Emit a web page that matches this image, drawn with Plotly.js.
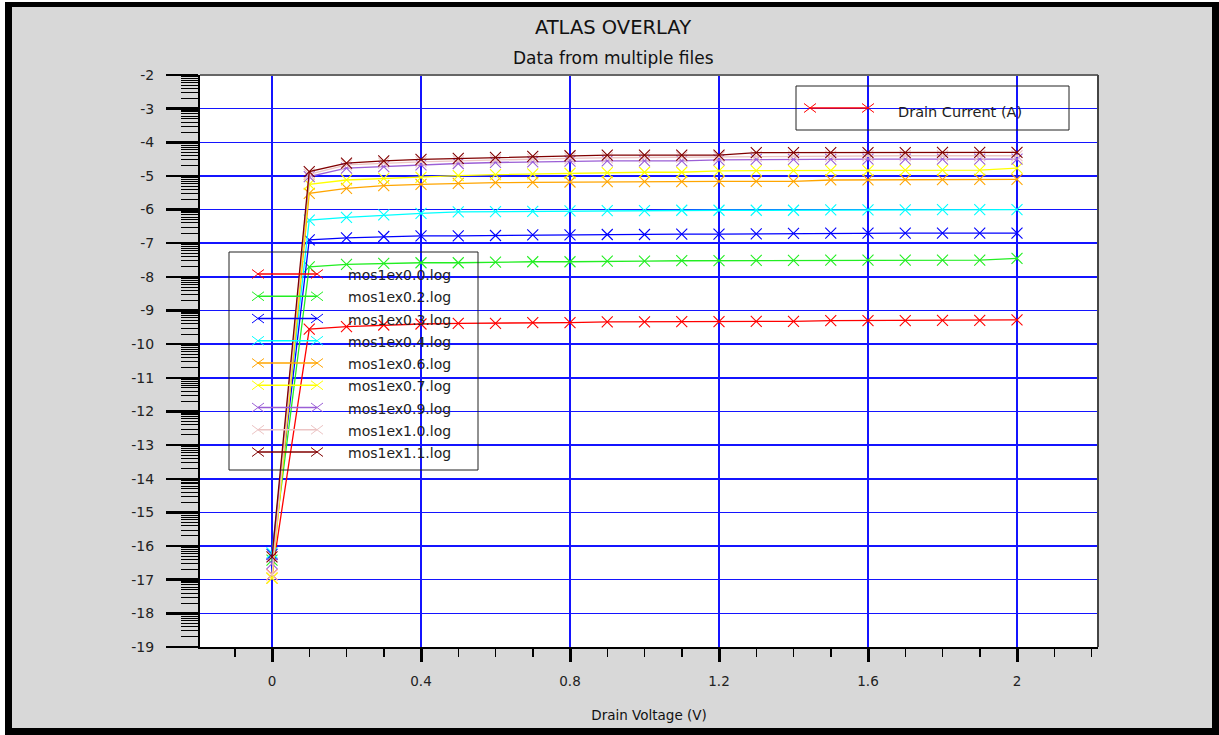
<!DOCTYPE html>
<html>
<head>
<meta charset="utf-8">
<script src="https://cdn.plot.ly/plotly-3.0.1.min.js"></script>
<style>
html,body{margin:0;padding:0;background:#fff;width:1219px;height:735px;overflow:hidden;}
#frame{position:absolute;left:5px;top:2px;width:1214px;height:733px;background:#000;}
#chart{position:absolute;left:12px;top:7px;width:1200px;height:721px;}
</style>
</head>
<body>
<div id="frame"></div>
<div id="chart"></div>
<script>
// ---------------- data (log10 of drain current) ----------------
const drainVoltage = [0.0,0.1,0.2,0.3,0.4,0.5,0.6,0.7,0.8,0.9,1.0,1.1,1.2,1.3,1.4,1.5,1.6,1.7,1.8,1.9,2.0];

const fileNames = ['mos1ex0.0.log','mos1ex0.2.log','mos1ex0.3.log','mos1ex0.4.log','mos1ex0.6.log',
                   'mos1ex0.7.log','mos1ex0.9.log','mos1ex1.0.log','mos1ex1.1.log'];

const logId_00 = [-16.85,-9.55,-9.48,-9.43,-9.40,-9.38,-9.38,-9.36,-9.36,-9.34,-9.34,-9.33,-9.33,-9.32,-9.32,-9.30,-9.30,-9.30,-9.29,-9.29,-9.28];
const logId_02 = [-16.42,-7.70,-7.63,-7.60,-7.58,-7.58,-7.56,-7.55,-7.55,-7.53,-7.53,-7.52,-7.52,-7.51,-7.51,-7.50,-7.50,-7.50,-7.50,-7.50,-7.45];
const logId_03 = [-16.25,-6.90,-6.84,-6.80,-6.78,-6.78,-6.77,-6.75,-6.75,-6.74,-6.74,-6.73,-6.73,-6.72,-6.71,-6.70,-6.70,-6.70,-6.70,-6.70,-6.70];
const logId_04 = [-16.20,-6.31,-6.23,-6.16,-6.11,-6.07,-6.06,-6.05,-6.04,-6.03,-6.03,-6.02,-6.02,-6.02,-6.02,-6.01,-6.01,-6.01,-6.00,-6.00,-6.00];
const logId_06 = [-16.95,-5.52,-5.37,-5.29,-5.25,-5.22,-5.20,-5.19,-5.18,-5.17,-5.17,-5.17,-5.16,-5.16,-5.16,-5.12,-5.12,-5.11,-5.11,-5.10,-5.10];
const logId_07 = [-16.95,-5.25,-5.12,-5.07,-5.04,-4.99,-4.96,-4.94,-4.92,-4.90,-4.89,-4.89,-4.85,-4.84,-4.84,-4.84,-4.84,-4.83,-4.83,-4.83,-4.77];
const logId_09 = [-16.52,-5.02,-4.77,-4.72,-4.67,-4.63,-4.60,-4.58,-4.56,-4.55,-4.55,-4.55,-4.52,-4.51,-4.51,-4.51,-4.50,-4.50,-4.50,-4.50,-4.50];
const logId_10 = [-16.85,-4.95,-4.67,-4.62,-4.58,-4.55,-4.52,-4.50,-4.48,-4.46,-4.45,-4.44,-4.43,-4.42,-4.41,-4.41,-4.40,-4.40,-4.40,-4.40,-4.40];
const logId_11 = [-16.32,-4.87,-4.62,-4.55,-4.51,-4.48,-4.45,-4.42,-4.40,-4.38,-4.38,-4.38,-4.38,-4.31,-4.31,-4.31,-4.31,-4.31,-4.30,-4.30,-4.30];

const xTickVals = [0, 0.4, 0.8, 1.2, 1.6, 2];
const xTickText = ['0','0.4','0.8','1.2','1.6','2'];
const yTickVals = [-19,-18,-17,-16,-15,-14,-13,-12,-11,-10,-9,-8,-7,-6,-5,-4,-3,-2];
const yTickText = ['-19','-18','-17','-16','-15','-14','-13','-12','-11','-10','-9','-8','-7','-6','-5','-4','-3','-2'];

const quantityName = 'Drain Current (A)';

// ---------------- styling ----------------
const seriesValues = [logId_00, logId_02, logId_03, logId_04, logId_06, logId_07, logId_09, logId_10, logId_11];
const colors = ['#ff0000','#22ee22','#0000ff','#00ffff','#ffa500','#ffff00','#9b5fd6','#ecc4c4','#800000'];

const FONT = 'DejaVu Sans, Arial, sans-serif';
const W = 1200, H = 721, ML = 188, MR = 114, MT = 68, MB = 81;
const PW = W - ML - MR, PH = H - MT - MB;
const px = d => (d - ML) / PW;          // div pixel -> paper x
const py = d => (H - MB - d) / PH;      // div pixel -> paper y
const xPerUnit = 372.5, xZeroPx = 260;

// log-decade minor ticks on the y axis
const yMinor = [];
for (let d = -19; d < -2; d++) for (let k = 2; k <= 9; k++) yMinor.push(d + Math.log10(k));

const traces = seriesValues.map((vals, i) => ({
  type: 'scatter', mode: 'lines+markers', name: fileNames[i],
  x: drainVoltage, y: vals, showlegend: false,
  line: {color: colors[i], width: 1.3},
  marker: {symbol: 'x-thin', size: 11, color: colors[i], line: {color: colors[i], width: 1.1}},
  hoverinfo: 'skip'
}));

const shapes = [];
const annotations = [];

function xMarker(xd, yd, c) {
  shapes.push({type:'line', xref:'paper', yref:'paper', x0:px(xd-6), x1:px(xd+6), y0:py(yd-4.5), y1:py(yd+4.5), line:{color:c, width:1}, layer:'above'});
  shapes.push({type:'line', xref:'paper', yref:'paper', x0:px(xd-6), x1:px(xd+6), y0:py(yd+4.5), y1:py(yd-4.5), line:{color:c, width:1}, layer:'above'});
}

// plot frame: top and right borders
shapes.push({type:'line', xref:'paper', yref:'paper', x0:0, x1:1, y0:1, y1:1, line:{color:'#666', width:2}, layer:'above'});
shapes.push({type:'line', xref:'paper', yref:'paper', x0:1, x1:1, y0:0, y1:1, line:{color:'#444', width:2}, layer:'above'});

// legend 1 (files)
shapes.push({type:'rect', xref:'paper', yref:'paper', x0:px(217), x1:px(466), y0:py(463), y1:py(245),
             line:{color:'#222', width:1}, fillcolor:'rgba(0,0,0,0)', layer:'above'});
fileNames.forEach((name, i) => {
  const yd = 267 + i * 22.25;
  shapes.push({type:'line', xref:'paper', yref:'paper', x0:px(246), x1:px(305), y0:py(yd), y1:py(yd), line:{color:colors[i], width:1.3}, layer:'above'});
  xMarker(246, yd, colors[i]);
  xMarker(305, yd, colors[i]);
  annotations.push({text:name, xref:'paper', yref:'paper', x:px(334), y:py(yd+1), xanchor:'left', yanchor:'middle',
                    showarrow:false, font:{family:FONT, size:14, color:'#222'}});
});

// legend 2 (quantity)
shapes.push({type:'rect', xref:'paper', yref:'paper', x0:px(784), x1:px(1057), y0:py(123), y1:py(79),
             line:{color:'#222', width:1}, fillcolor:'rgba(0,0,0,0)', layer:'above'});
shapes.push({type:'line', xref:'paper', yref:'paper', x0:px(798), x1:px(856), y0:py(101), y1:py(101), line:{color:'#ff0000', width:1.3}, layer:'above'});
xMarker(798, 101, '#ff0000');
xMarker(856, 101, '#ff0000');
annotations.push({text:quantityName, xref:'paper', yref:'paper', x:px(884), y:py(105), xanchor:'left', yanchor:'middle',
                  showarrow:false, font:{family:FONT, size:14.5, color:'#222'}});

// subtitle
annotations.push({text:'Data from multiple files', xref:'paper', yref:'paper', x:px(601), y:py(51), xanchor:'center', yanchor:'middle',
                  showarrow:false, font:{family:FONT, size:17, color:'#111'}});

const layout = {
  width: W, height: H,
  margin: {l: ML, r: MR, t: MT, b: MB, pad: 0},
  paper_bgcolor: '#d8d8d8', plot_bgcolor: '#ffffff',
  showlegend: false,
  title: {text:'ATLAS OVERLAY', x: 601 / W, xref:'container', xanchor:'center', y: 1 - 20 / H, yref:'container', yanchor:'middle',
          font:{family:FONT, size:19.5, color:'#111'}},
  xaxis: {
    range: [(ML - xZeroPx) / xPerUnit, (ML + PW - xZeroPx) / xPerUnit], autorange: false,
    tickmode:'array', tickvals:xTickVals, ticktext:xTickText,
    ticks:'outside', ticklen:13, tickwidth:3, tickcolor:'#000',
    tickfont:{family:FONT, size:13.5, color:'#222'}, ticklabelstandoff: 8,
    showgrid:true, gridcolor:'#1414ff', gridwidth:1.5, zeroline:false,
    showline:true, linecolor:'#000', linewidth:2,
    minor:{tickmode:'linear', tick0:0, dtick:0.1, ticks:'outside', ticklen:8, tickwidth:1.5, tickcolor:'#000', showgrid:false},
    title:{text:'Drain Voltage (V)', font:{family:FONT, size:13.5, color:'#111'}, standoff: 22},
    automargin:false, fixedrange:true
  },
  yaxis: {
    range: [-19, -2], autorange:false,
    tickmode:'array', tickvals:yTickVals, ticktext:yTickText,
    ticks:'outside', ticklen:32, tickwidth:2.5, tickcolor:'#000',
    tickfont:{family:FONT, size:14, color:'#222'}, ticklabelstandoff: 9,
    showgrid:true, gridcolor:'#1414ff', gridwidth:1.5, zeroline:false,
    showline:true, linecolor:'#000', linewidth:2,
    minor:{tickmode:'array', tickvals:yMinor, ticks:'outside', ticklen:17, tickwidth:1, tickcolor:'#000', showgrid:false},
    automargin:false, fixedrange:true
  },
  shapes: shapes,
  annotations: annotations
};

Plotly.newPlot('chart', traces, layout, {staticPlot:true, displayModeBar:false});
</script>
</body>
</html>
